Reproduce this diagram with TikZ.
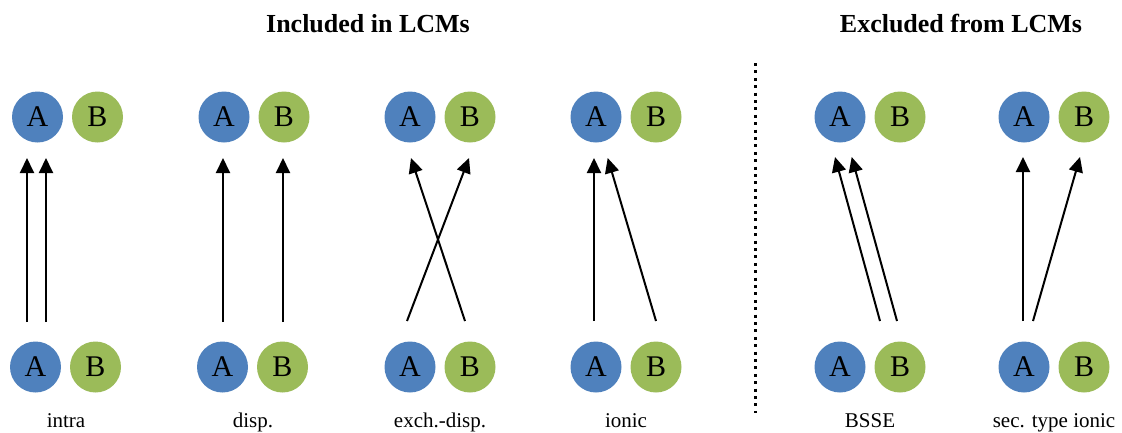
\documentclass[tikz,border=0pt]{standalone}
\usepackage{fontspec}
\setmainfont{Liberation Serif}
\usetikzlibrary{arrows.meta}
\definecolor{fragA}{HTML}{4F81BD}
\definecolor{fragB}{HTML}{9BBB59}
\tikzset{
  atom/.style={circle, inner sep=0pt, minimum size=51pt, font=\fontsize{30}{30}\selectfont},
  atomA/.style={atom, fill=fragA},
  atomB/.style={atom, fill=fragB},
  contrib/.style={line width=2pt, -{Triangle[length=15pt,width=14pt]}},
  caption/.style={anchor=base, font=\fontsize{21}{23}\selectfont},
  heading/.style={anchor=base, font=\fontsize{26}{28}\selectfont\bfseries},
  divider/.style={line width=3pt, dash pattern=on 3pt off 4.4pt}
}
\begin{document}
\begin{tikzpicture}[x=1pt, y=-1pt]
\useasboundingbox (0,0) rectangle (1122,432);

% headings
\node[heading] (hin) at (368,32) {Included in LCMs};
\node[heading] (hout) at (961,32) {Excluded from LCMs};

% dimer pairs: top (target) and bottom (source) rows
\foreach \n/\xt/\xb in {1/37.5/35.5, 2/224/222.5, 3/410/410, 4/596/596, 5/840/840, 6/1024/1024} {
  \node[atomA] (tA\n) at (\xt,117) {A};
  \node[atomB] (tB\n) at (\xt+60,117) {B};
  \node[atomA] (bA\n) at (\xb,367) {A};
  \node[atomB] (bB\n) at (\xb+60,367) {B};
}

% captions
\node[caption] (c1) at (66,427) {intra};
\node[caption] (c2) at (253,427) {disp.};
\node[caption] (c3) at (440,427) {exch.-disp.};
\node[caption] (c4) at (626,427) {ionic};
\node[caption] (c5) at (870,427) {BSSE};
\node[caption] (c6) at (1054,427) {sec. type ionic};

% arrow end points
\coordinate (s1a) at (27,322);     \coordinate (e1a) at (27,158);
\coordinate (s1b) at (46,322);     \coordinate (e1b) at (46,158);
\coordinate (s2a) at (223,322);    \coordinate (e2a) at (223,158);
\coordinate (s2b) at (283,322);    \coordinate (e2b) at (283,158);
\coordinate (s3a) at (465,321);    \coordinate (e3a) at (411,158);
\coordinate (s3b) at (407,321);    \coordinate (e3b) at (469,158);
\coordinate (s4a) at (594,321);    \coordinate (e4a) at (594,158);
\coordinate (s4b) at (656,321);    \coordinate (e4b) at (607.7,158);
\coordinate (s5a) at (880,321);    \coordinate (e5a) at (835,157);
\coordinate (s5b) at (897,321);    \coordinate (e5b) at (851.7,157);
\coordinate (s6a) at (1023,321);   \coordinate (e6a) at (1023,157);
\coordinate (s6b) at (1033,321);   \coordinate (e6b) at (1080,157);

\foreach \n in {1,...,6} {
  \draw[contrib] (s\n a) -- (e\n a);
  \draw[contrib] (s\n b) -- (e\n b);
}

% divider between the two groups
\coordinate (dtop) at (755.7,63);
\coordinate (dbot) at (755.7,413);
\draw[divider] (dtop) -- (dbot);
\end{tikzpicture}
\end{document}
